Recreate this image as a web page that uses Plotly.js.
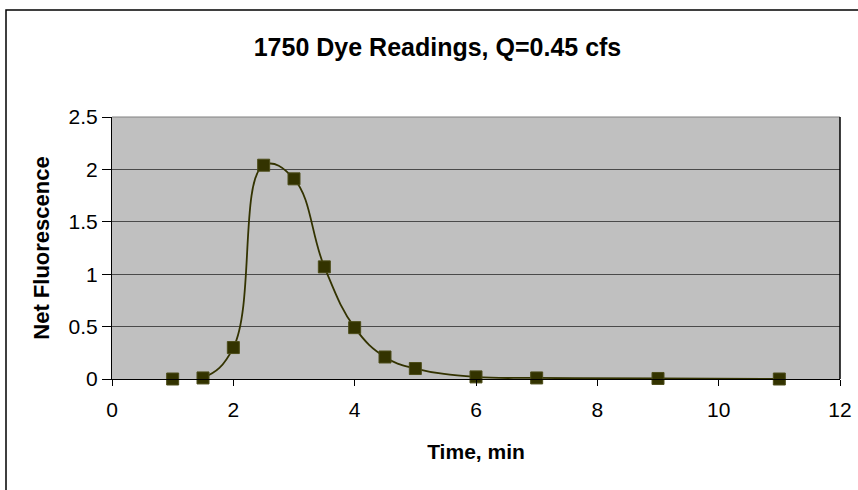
<!DOCTYPE html>
<html>
<head>
<meta charset="utf-8">
<script src="https://cdn.plot.ly/plotly-3.0.1.min.js"></script>
<style>
  html, body { margin: 0; padding: 0; background: #ffffff; }
  #chart { width: 858px; height: 490px; }
</style>
</head>
<body>
<div id="chart"></div>
<script>
// Dye readings: time after injection (min) and net fluorescence
const timeMin = [1, 1.5, 2, 2.5, 3, 3.5, 4, 4.5, 5, 6, 7, 9, 11];
const netFluorescence = [0.0, 0.01, 0.30, 2.04, 1.91, 1.07, 0.49, 0.21, 0.10, 0.02, 0.01, 0.005, 0.0];
const xTicks = [0, 2, 4, 6, 8, 10, 12];
const yTicks = [0, 0.5, 1, 1.5, 2, 2.5];

const olive = '#333300';
const fontFam = 'Liberation Sans, Arial, sans-serif';

const trace = {
  x: timeMin,
  y: netFluorescence,
  type: 'scatter',
  mode: 'lines+markers',
  line: { color: olive, width: 1.8, shape: 'spline', smoothing: 1.2 },
  marker: { symbol: 'square', size: 12, color: olive, line: { color: '#4d4d1a', width: 1 } },
  cliponaxis: false,
  hoverinfo: 'x+y'
};

// plot area spans 112..840 px horizontally and 117..379 px vertically
const L = 112, R = 18, T = 117, B = 111;
const pw = 858 - L - R, ph = 490 - T - B;
const px = v => (v - L) / pw;
const py = v => (490 - B - v) / ph;

const layout = {
  width: 858,
  height: 490,
  margin: { l: L, r: R, t: T, b: B, pad: 0 },
  paper_bgcolor: '#ffffff',
  plot_bgcolor: '#c0c0c0',
  showlegend: false,
  font: { family: fontFam, color: '#000000' },
  title: {
    text: '<b>1750 Dye Readings, Q=0.45 cfs</b>',
    font: { family: fontFam, size: 25, color: '#000000' },
    x: 437.5 / 858, xref: 'container', xanchor: 'center',
    y: 1 - 47 / 490, yref: 'container', yanchor: 'middle'
  },
  xaxis: {
    range: [0, 12],
    tickvals: xTicks,
    ticktext: xTicks.map(String),
    ticks: 'outside', ticklen: 6, tickcolor: '#000000', tickwidth: 1,
    ticklabelstandoff: 6,
    showgrid: false, zeroline: false,
    showline: true, linecolor: '#000000', linewidth: 1,
    tickfont: { family: fontFam, size: 21, color: '#000000' },
    title: { text: '<b>Time, min</b>', font: { family: fontFam, size: 21, color: '#000000' }, standoff: 24 },
    fixedrange: true
  },
  yaxis: {
    range: [0, 2.5],
    tickvals: yTicks,
    ticktext: yTicks.map(String),
    ticks: 'outside', ticklen: 9, tickcolor: '#000000', tickwidth: 1,
    showgrid: true, gridcolor: '#4a4a4a', gridwidth: 1,
    zeroline: false,
    showline: true, linecolor: '#000000', linewidth: 1,
    tickfont: { family: fontFam, size: 21, color: '#000000' },
    title: { text: '<b>Net Fluorescence</b>', font: { family: fontFam, size: 22, color: '#000000' }, standoff: 12 },
    fixedrange: true
  },
  shapes: [
    // chart area frame
    { type: 'rect', xref: 'paper', yref: 'paper', x0: px(6), x1: px(870), y0: py(500), y1: py(10),
      line: { color: '#000000', width: 1.5 }, fillcolor: 'rgba(0,0,0,0)', layer: 'below' },
    // plot area border (top and right)
    { type: 'line', xref: 'paper', yref: 'paper', x0: 0, x1: 1, y0: 1, y1: 1,
      line: { color: '#808080', width: 1 } },
    { type: 'line', xref: 'paper', yref: 'paper', x0: 1, x1: 1, y0: 0, y1: 1,
      line: { color: '#000000', width: 1.5 } }
  ]
};

Plotly.newPlot('chart', [trace], layout, { displayModeBar: false, staticPlot: true });
</script>
</body>
</html>
